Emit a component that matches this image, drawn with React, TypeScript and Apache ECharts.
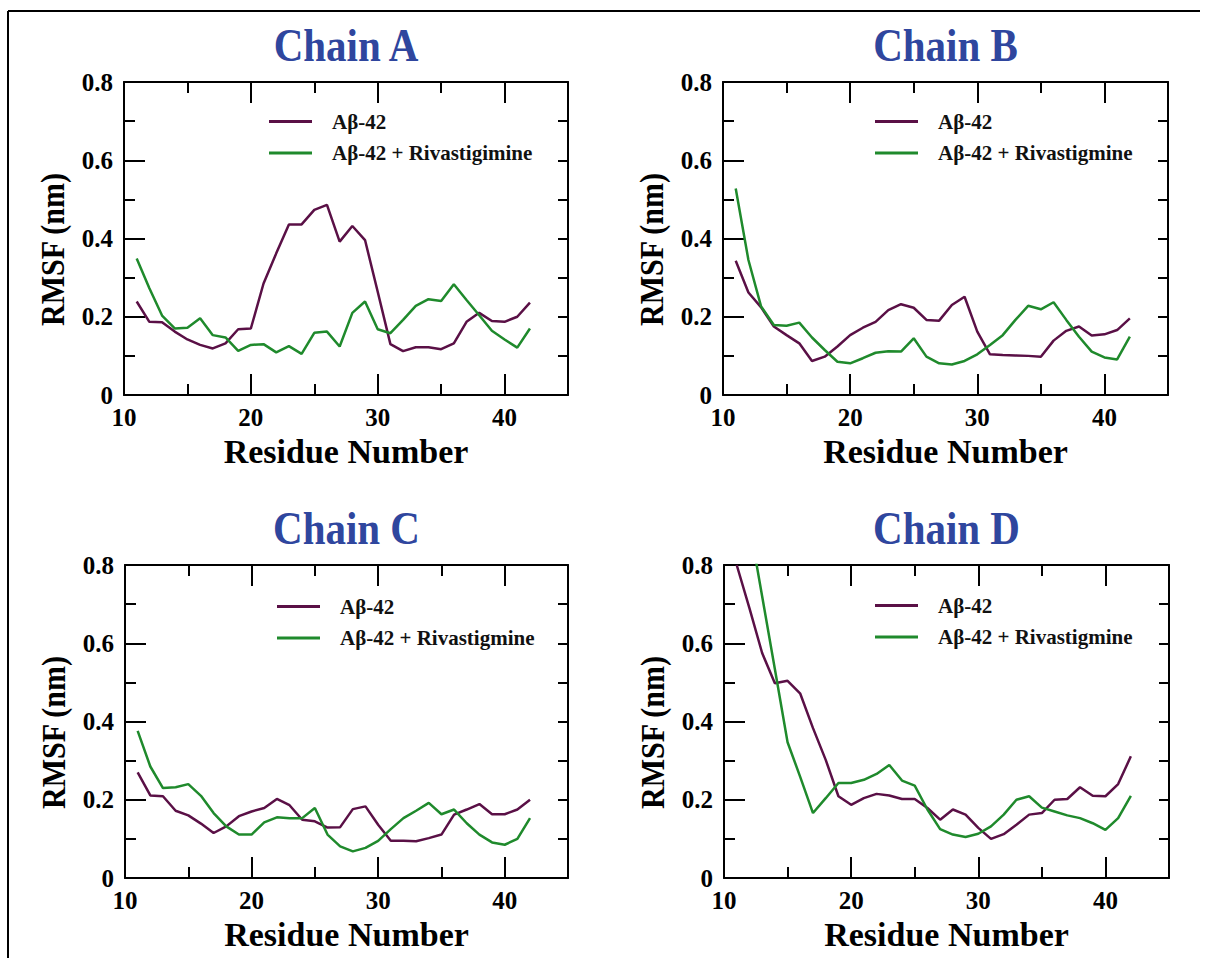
import React, { useEffect, useRef } from 'react';
import * as echarts from 'echarts';

// Residue numbers (x values)
const residues = [11, 12, 13, 14, 15, 16, 17, 18, 19, 20, 21, 22, 23, 24, 25, 26, 27, 28, 29, 30, 31, 32, 33, 34, 35, 36, 37, 38, 39, 40, 41, 42];

// RMSF (nm) values
const chainA_ab42 = [0.239, 0.187, 0.186, 0.162, 0.142, 0.128, 0.119, 0.132, 0.168, 0.170, 0.285, 0.362, 0.436, 0.436, 0.473, 0.486, 0.392, 0.432, 0.396, 0.264, 0.130, 0.112, 0.122, 0.122, 0.117, 0.132, 0.187, 0.210, 0.189, 0.187, 0.200, 0.236];
const chainA_riv = [0.349, 0.273, 0.203, 0.170, 0.172, 0.196, 0.153, 0.147, 0.113, 0.128, 0.130, 0.109, 0.125, 0.105, 0.159, 0.162, 0.124, 0.210, 0.239, 0.168, 0.158, 0.192, 0.228, 0.245, 0.240, 0.283, 0.243, 0.204, 0.164, 0.142, 0.121, 0.170];

const chainB_ab42 = [0.343, 0.262, 0.224, 0.175, 0.153, 0.132, 0.087, 0.098, 0.124, 0.153, 0.172, 0.187, 0.217, 0.232, 0.223, 0.192, 0.190, 0.230, 0.251, 0.162, 0.104, 0.102, 0.101, 0.100, 0.098, 0.139, 0.164, 0.175, 0.152, 0.155, 0.166, 0.196];
const chainB_riv = [0.528, 0.345, 0.226, 0.179, 0.177, 0.185, 0.147, 0.115, 0.085, 0.081, 0.094, 0.108, 0.112, 0.111, 0.145, 0.098, 0.081, 0.078, 0.087, 0.104, 0.128, 0.153, 0.192, 0.228, 0.219, 0.237, 0.192, 0.149, 0.111, 0.096, 0.091, 0.149];

const chainC_ab42 = [0.270, 0.211, 0.209, 0.172, 0.160, 0.139, 0.115, 0.132, 0.158, 0.170, 0.179, 0.202, 0.186, 0.149, 0.145, 0.129, 0.130, 0.176, 0.183, 0.136, 0.095, 0.095, 0.094, 0.102, 0.111, 0.162, 0.175, 0.189, 0.163, 0.163, 0.175, 0.200];
const chainC_riv = [0.376, 0.285, 0.230, 0.232, 0.240, 0.210, 0.166, 0.132, 0.111, 0.111, 0.142, 0.155, 0.153, 0.153, 0.179, 0.111, 0.081, 0.068, 0.077, 0.095, 0.125, 0.153, 0.172, 0.192, 0.163, 0.175, 0.140, 0.111, 0.091, 0.085, 0.100, 0.153];

const chainD_ab42 = [0.800, 0.690, 0.575, 0.498, 0.504, 0.471, 0.383, 0.302, 0.209, 0.187, 0.204, 0.215, 0.211, 0.202, 0.202, 0.179, 0.149, 0.175, 0.162, 0.128, 0.100, 0.112, 0.136, 0.162, 0.166, 0.200, 0.202, 0.232, 0.210, 0.209, 0.240, 0.311];
const chainD_riv = [1.100, 0.906, 0.720, 0.534, 0.347, 0.258, 0.166, 0.204, 0.243, 0.243, 0.251, 0.266, 0.289, 0.249, 0.236, 0.175, 0.125, 0.111, 0.105, 0.113, 0.132, 0.162, 0.200, 0.209, 0.180, 0.170, 0.160, 0.153, 0.140, 0.123, 0.153, 0.210];

const titles = ['Chain A', 'Chain B', 'Chain C', 'Chain D'];
const ab42Name = 'Aβ-42';
const rivNames = ['Aβ-42 + Rivastigimine', 'Aβ-42 + Rivastigmine', 'Aβ-42 + Rivastigmine', 'Aβ-42 + Rivastigmine'];
const xAxisTitle = 'Residue Number';
const yAxisTitle = 'RMSF (nm)';

const PURPLE = '#5a1046';
const GREEN = '#1f8a2c';
const TITLE_BLUE = '#2f469e';
const FONT = '"Liberation Serif", "Times New Roman", Times, serif';

const layout = [
  { grid: { left: 124, top: 82, width: 444, height: 313 }, legend: { left: 269, top: 111 } },
  { grid: { left: 723, top: 82, width: 445, height: 313 }, legend: { left: 875, top: 111 } },
  { grid: { left: 125, top: 565, width: 443, height: 313 }, legend: { left: 277, top: 596 } },
  { grid: { left: 724, top: 565, width: 445, height: 313 }, legend: { left: 875, top: 595 } },
];

const seriesData = [
  [chainA_ab42, chainA_riv],
  [chainB_ab42, chainB_riv],
  [chainC_ab42, chainC_riv],
  [chainD_ab42, chainD_riv],
];

function buildOption() {
  const grid: any[] = [];
  const xAxis: any[] = [];
  const yAxis: any[] = [];
  const series: any[] = [];
  const legend: any[] = [];
  const graphic: any[] = [];

  const axisLine = { show: true, lineStyle: { color: '#000', width: 2 } };

  layout.forEach((L, i) => {
    grid.push({ ...L.grid, containLabel: false });
    const g = L.grid;
    // bottom major
    xAxis.push({
      type: 'value', gridIndex: i, position: 'bottom', min: 10, max: 45, interval: 10,
      axisLine, splitLine: { show: false },
      axisTick: { show: true, inside: true, length: 21, lineStyle: { color: '#000', width: 2 } },
      axisLabel: {
        show: true, margin: 10, color: '#000', fontFamily: FONT, fontWeight: 'bold', fontSize: 25,
        formatter: (v: number) => (v === 45 ? '' : String(v)),
      },
    });
    // bottom minor
    xAxis.push({
      type: 'value', gridIndex: i, position: 'bottom', min: 10, max: 45, interval: 5,
      axisLine: { show: false }, splitLine: { show: false }, axisLabel: { show: false },
      axisTick: { show: true, inside: true, length: 11, lineStyle: { color: '#000', width: 2 } },
    });
    // top major
    xAxis.push({
      type: 'value', gridIndex: i, position: 'top', min: 10, max: 45, interval: 10,
      axisLine, splitLine: { show: false }, axisLabel: { show: false },
      axisTick: { show: true, inside: true, length: 21, lineStyle: { color: '#000', width: 2 } },
    });
    // top minor
    xAxis.push({
      type: 'value', gridIndex: i, position: 'top', min: 10, max: 45, interval: 5,
      axisLine: { show: false }, splitLine: { show: false }, axisLabel: { show: false },
      axisTick: { show: true, inside: true, length: 11, lineStyle: { color: '#000', width: 2 } },
    });
    // left
    yAxis.push({
      type: 'value', gridIndex: i, position: 'left', min: 0, max: 0.8, interval: 0.2,
      axisLine, splitLine: { show: false },
      axisTick: { show: true, inside: true, length: 21, lineStyle: { color: '#000', width: 2 } },
      minorTick: { show: true, splitNumber: 2, length: 11, lineStyle: { color: '#000', width: 2 } },
      minorSplitLine: { show: false },
      axisLabel: { show: true, margin: 11, color: '#000', fontFamily: FONT, fontWeight: 'bold', fontSize: 25 },
    });
    // right
    yAxis.push({
      type: 'value', gridIndex: i, position: 'right', min: 0, max: 0.8, interval: 0.1,
      axisLine, splitLine: { show: false }, axisLabel: { show: false },
      axisTick: { show: true, inside: true, length: 10, lineStyle: { color: '#000', width: 2 } },
    });

    const [ab, riv] = seriesData[i];
    series.push({
      type: 'line', name: ab42Name, xAxisIndex: i * 4, yAxisIndex: i * 2,
      data: residues.map((r, k) => [r, ab[k]]), symbol: 'none', clip: true,
      color: PURPLE, lineStyle: { color: PURPLE, width: 2.5 }, itemStyle: { color: PURPLE }, z: 3,
    });
    series.push({
      type: 'line', name: rivNames[i], xAxisIndex: i * 4, yAxisIndex: i * 2,
      data: residues.map((r, k) => [r, riv[k]]), symbol: 'none', clip: true,
      color: GREEN, lineStyle: { color: GREEN, width: 2.5 }, itemStyle: { color: GREEN }, z: 3,
    });

    legend.push({
      orient: 'vertical', left: L.legend.left, top: L.legend.top, padding: 0,
      itemGap: 10.5, itemWidth: 43, itemHeight: 3, icon: 'rect', selectedMode: false,
      data: [ab42Name, rivNames[i]],
      textStyle: { fontFamily: FONT, fontWeight: 'bold', fontSize: 21, color: '#111', padding: [0, 0, 0, 15] },
    });

    const cx = g.left + g.width / 2;
    graphic.push({
      type: 'text', x: cx, y: g.top - 36, scaleY: 1.14,
      style: { text: titles[i], fill: TITLE_BLUE, fontFamily: FONT, fontWeight: 'bold', fontSize: 41, align: 'center', verticalAlign: 'middle' },
    });
    graphic.push({
      type: 'text', x: cx, y: g.top + g.height + 56,
      style: { text: xAxisTitle, fill: '#000', fontFamily: FONT, fontWeight: 'bold', fontSize: 34, align: 'center', verticalAlign: 'middle' },
    });
    graphic.push({
      type: 'text', x: g.left - 71, y: g.top + g.height / 2 + 11, rotation: Math.PI / 2, scaleY: 1.12,
      style: { text: yAxisTitle, fill: '#000', fontFamily: FONT, fontWeight: 'bold', fontSize: 30, align: 'center', verticalAlign: 'middle' },
    });
  });

  // outer frame (top and left edges)
  graphic.push({ type: 'line', shape: { x1: 8, y1: 11, x2: 1200, y2: 11 }, style: { stroke: '#000', lineWidth: 2 } });
  graphic.push({ type: 'line', shape: { x1: 8, y1: 11, x2: 8, y2: 958 }, style: { stroke: '#000', lineWidth: 2 } });

  return {
    animation: false,
    backgroundColor: '#fff',
    grid, xAxis, yAxis, series, legend, graphic,
  };
}

export default function App() {
  const ref = useRef<HTMLDivElement>(null);
  useEffect(() => {
    if (!ref.current) return;
    const chart = echarts.init(ref.current, undefined, { renderer: 'svg' });
    chart.setOption(buildOption() as any);
    return () => chart.dispose();
  }, []);
  return <div ref={ref} style={{ position: 'absolute', left: 0, top: 0, width: 1208, height: 958 }} />;
}
